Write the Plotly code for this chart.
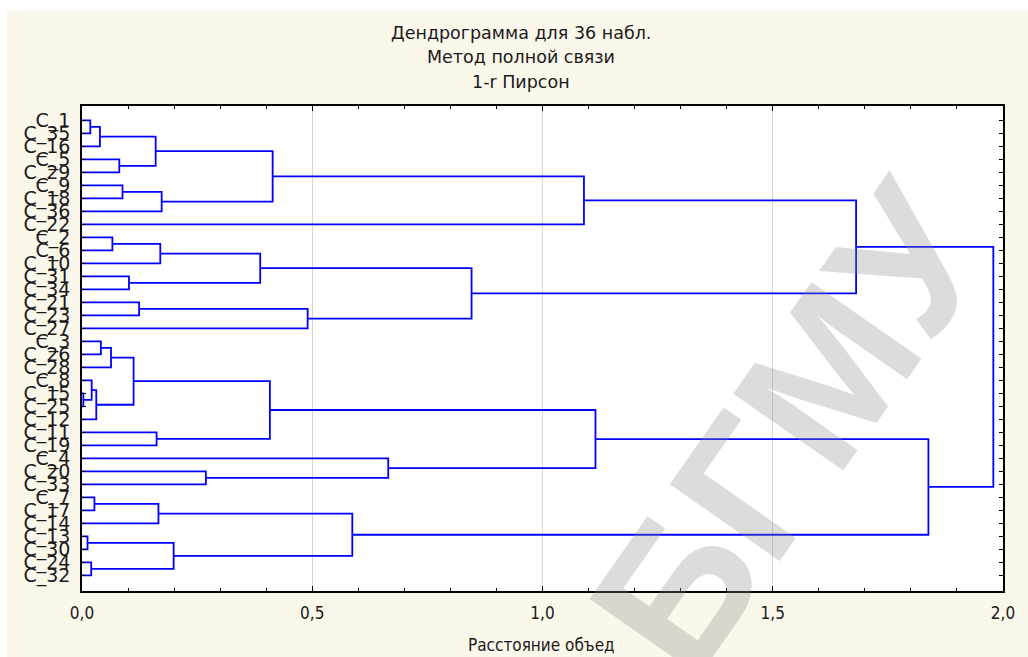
import plotly.graph_objects as go

# ---- data ----
leaves = ["C_1", "C_35", "C_16", "C_5", "C_29", "C_9", "C_18", "C_36", "C_22",
          "C_2", "C_6", "C_10", "C_31", "C_34", "C_21", "C_23", "C_27",
          "C_3", "C_26", "C_28", "C_8", "C_15", "C_25", "C_12", "C_11", "C_19",
          "C_4", "C_20", "C_33",
          "C_7", "C_17", "C_14", "C_13", "C_30", "C_24", "C_32"]

# merges: M<k> refers to the k-th merge
merge_left = ["C_1", "M0", "C_5", "M1", "C_9", "M4", "M3", "M6",
              "C_2", "M8", "C_31", "M9", "C_21", "M12", "M11", "M7",
              "C_3", "M16", "C_15", "C_8", "M19", "M17", "C_11", "M21",
              "C_20", "C_4", "M23",
              "C_7", "M27", "C_13", "C_24", "M29", "M28", "M26", "M15"]
merge_right = ["C_35", "C_16", "C_29", "M2", "C_18", "C_36", "M5", "C_22",
               "C_6", "C_10", "C_34", "M10", "C_23", "C_27", "M13", "M14",
               "C_26", "C_28", "C_25", "M18", "C_12", "M20", "C_19", "M22",
               "C_33", "M24", "M25",
               "C_17", "C_14", "C_30", "C_32", "M30", "M31", "M32", "M33"]
merge_height = [0.018, 0.039, 0.081, 0.160, 0.088, 0.173, 0.414, 1.090,
                0.066, 0.170, 0.102, 0.387, 0.124, 0.490, 0.846, 1.681,
                0.041, 0.063, 0.003, 0.021, 0.031, 0.112, 0.162, 0.408,
                0.269, 0.665, 1.115,
                0.027, 0.166, 0.012, 0.020, 0.199, 0.587, 1.838, 1.979]

x_ticks = [0.0, 0.5, 1.0, 1.5, 2.0]

title_lines = ["Дендрограмма для 36 набл.", "Метод полной связи", "1-r Пирсон"]
x_title = "Расстояние объед"

# ---- build link segments ----
pos = {name: i + 1 for i, name in enumerate(leaves)}
hgt = {name: 0.0 for name in leaves}
xs, ys = [], []
for k, (a, b, h) in enumerate(zip(merge_left, merge_right, merge_height)):
    ya, yb = pos[a], pos[b]
    xs += [hgt[a], h, h, hgt[b], None]
    ys += [ya, ya, yb, yb, None]
    name = "M%d" % k
    pos[name] = (ya + yb) / 2.0
    hgt[name] = h

fig = go.Figure()
fig.add_trace(go.Scatter(x=xs, y=ys, mode="lines",
                         line=dict(color="#0000FF", width=1.8),
                         hoverinfo="skip", showlegend=False))

W, H = 1028, 657
L, R, T, B = 82, 25, 106, 66
pw, ph = W - L - R, H - T - B


def px_x(x):
    return (x - L) / pw


def px_y(y):
    return (H - B - y) / ph


annotations = []
for line, yp in zip(title_lines, [33, 57, 82]):
    annotations.append(dict(text=line, x=px_x(521), y=px_y(yp), xref="paper", yref="paper",
                            xanchor="center", yanchor="middle", showarrow=False,
                            font=dict(family="DejaVu Sans", size=17.5, color="#1a1a1a")))
annotations.append(dict(text=x_title, x=px_x(541), y=px_y(645), xref="paper", yref="paper",
                        xanchor="center", yanchor="middle", showarrow=False,
                        font=dict(family="Liberation Sans Narrow, DejaVu Sans Condensed, sans-serif",
                                  size=17, color="#1a1a1a")))
# watermark
annotations.append(dict(text="БГМУ", x=px_x(790), y=px_y(428), xref="paper", yref="paper",
                        xanchor="center", yanchor="middle", showarrow=False, textangle=-55,
                        font=dict(family="Liberation Sans", size=195, color="rgba(140,140,140,0.30)",
                                  weight="bold")))

shapes = [
    dict(type="rect", xref="paper", yref="paper", x0=px_x(0), x1=px_x(W), y0=px_y(10), y1=px_y(0),
         fillcolor="white", line=dict(width=0), layer="below"),
    dict(type="rect", xref="paper", yref="paper", x0=px_x(0), x1=px_x(7), y0=px_y(H), y1=px_y(0),
         fillcolor="white", line=dict(width=0), layer="below"),
]

fig.update_layout(
    width=W, height=H,
    margin=dict(l=L, r=R, t=T, b=B),
    paper_bgcolor="#FCF7EB",
    plot_bgcolor="white",
    separators=", ",
    annotations=annotations,
    shapes=shapes,
    showlegend=False,
)
fig.update_xaxes(range=[0, 2], tickvals=x_ticks, tickformat=".1f",
                 showgrid=True, gridcolor="#d6d6d6", gridwidth=1, zeroline=False,
                 showline=True, linecolor="black", linewidth=1.5, mirror="allticks",
                 ticks="inside", ticklen=5, tickcolor="black",
                 minor=dict(dtick=0.1, ticks="inside", ticklen=3, tickcolor="black", showgrid=False),
                 tickfont=dict(family="Liberation Sans Narrow, DejaVu Sans Condensed, sans-serif",
                               size=17, color="#1a1a1a"),
                 ticklabelstandoff=6)
fig.update_yaxes(range=[37.2, -0.1], tickvals=list(range(1, len(leaves) + 1)), ticktext=leaves,
                 showgrid=False, zeroline=False,
                 showline=True, linecolor="black", linewidth=1.5, mirror="allticks",
                 ticks="inside", ticklen=4, tickcolor="black",
                 tickfont=dict(family="DejaVu Sans", size=19, color="#1a1a1a"),
                 ticklabelstandoff=6)

fig.write_html("out.html", config={"displayModeBar": False},
               post_script="document.body.style.margin='0';document.body.style.overflow='hidden';")
